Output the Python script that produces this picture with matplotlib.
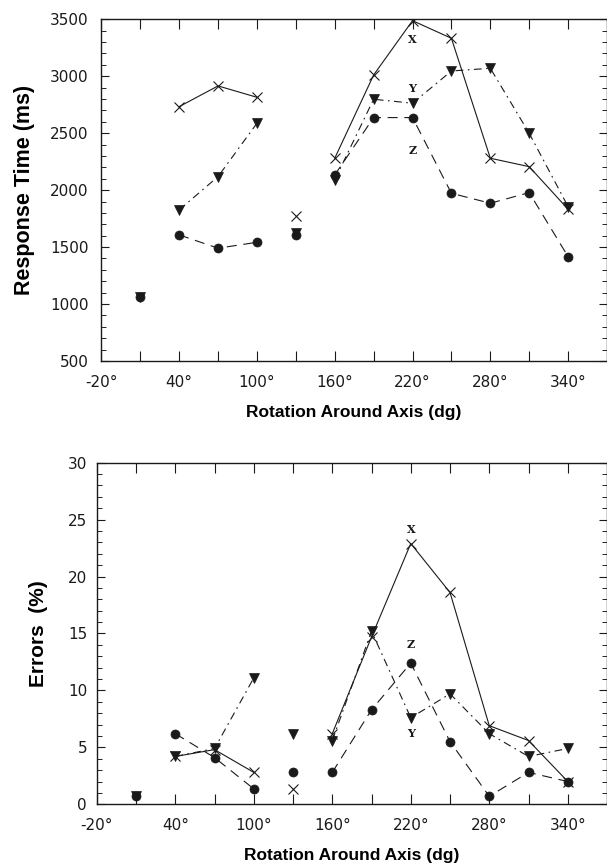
import numpy as np
import matplotlib.pyplot as plt
from matplotlib.ticker import MultipleLocator, FixedLocator

# rotation angles (degrees)
angles = np.array([10, 40, 70, 100, 130, 160, 190, 220, 250, 280, 310, 340])

# response times (ms) per rotation axis
rt_x = np.array([np.nan, 2733, 2915, 2815, 1773, 2280, 3011, 3488, 3333, 2280, 2206, 1832])
rt_y = np.array([1060, 1826, 2119, 2587, 1625, 2090, 2798, 2763, 3046, 3070, 2499, 1855])
rt_z = np.array([1065, 1607, 1490, 1542, 1607, 2133, 2637, 2637, 1972, 1885, 1978, 1416])

# errors (%) per rotation axis
err_x = np.array([np.nan, 4.2, 4.8, 2.8, 1.35, 6.2, 14.7, 22.9, 18.6, 6.9, 5.6, 2.0])
err_y = np.array([0.7, 4.2, 4.9, 11.1, 6.2, 5.6, 15.2, 7.6, 9.7, 6.2, 4.2, 4.9])
err_z = np.array([0.7, 6.2, 4.1, 1.35, 2.8, 2.8, 8.3, 12.4, 5.5, 0.7, 2.8, 2.0])

# connected runs of angles
segments = [(40, 100), (160, 340)]
xtick_labels = ["-20°", "40°", "100°", "160°", "220°", "280°", "340°"]

INK = "#1a1a1a"
styles = {
    "x": dict(marker="x", ms=7, mew=0.8, ls="-"),
    "y": dict(marker="v", ms=7, mew=0.5, ls=(0, (7, 4, 1.5, 4))),
    "z": dict(marker="o", ms=6.5, mew=0.5, ls=(0, (9, 6))),
}

tick_font = dict(family="DejaVu Sans", size=11)
label_family = ["Liberation Sans Narrow", "Liberation Sans", "DejaVu Sans"]


def draw_series(ax, vals, st):
    ax.plot(angles, vals, color=INK, marker=st["marker"], ms=st["ms"],
            mew=st["mew"], ls="none", zorder=3)
    for lo, hi in segments:
        m = (angles >= lo) & (angles <= hi)
        ax.plot(angles[m], vals[m], color=INK, lw=0.8, ls=st["ls"], zorder=2)


def style_axes(ax, ymin, ymax, ymajor, yminor, ypad):
    ax.set_xlim(-20, 370)
    ax.set_ylim(ymin, ymax)
    ax.set_xticks([-20, 40, 100, 160, 220, 280, 340])
    ax.set_xticklabels(xtick_labels, fontdict=tick_font)
    ax.xaxis.set_minor_locator(FixedLocator([10, 70, 130, 190, 250, 310]))
    ax.yaxis.set_major_locator(MultipleLocator(ymajor))
    ax.yaxis.set_minor_locator(MultipleLocator(yminor))
    ax.tick_params(axis="x", which="both", direction="in", length=7, width=0.8,
                   top=True, pad=10, colors=INK)
    ax.tick_params(axis="y", which="major", direction="in", length=6, width=0.8,
                   right=True, pad=ypad, colors=INK)
    ax.tick_params(axis="y", which="minor", direction="in", length=3.5, width=0.6,
                   right=True)
    for s in ax.spines.values():
        s.set_linewidth(1.0)
        s.set_color(INK)


fig = plt.figure(figsize=(6.07, 8.65), dpi=100)
ann = dict(family="DejaVu Serif", fontweight="bold", fontsize=8,
           ha="center", va="center", color=INK)

# --- response time ---
ax1 = fig.add_axes([0.167, 0.5827, 0.833, 0.395])
draw_series(ax1, rt_x, styles["x"])
draw_series(ax1, rt_y, styles["y"])
draw_series(ax1, rt_z, styles["z"])
style_axes(ax1, 500, 3500, 500, 100, 9)
ax1.set_yticks(np.arange(500, 3501, 500))
ax1.set_yticklabels([str(v) for v in range(500, 3501, 500)], fontdict=tick_font)
ax1.set_ylabel("Response Time (ms)", family=label_family, fontweight="bold",
               fontsize=15.5)
ax1.yaxis.set_label_coords(-0.131, 0.5)
ax1.set_xlabel("Rotation Around Axis (dg)", family=label_family,
               fontweight="bold", fontsize=12.5)
ax1.xaxis.set_label_coords(0.5, -0.129)
ax1.text(220, 3319, "X", **ann)
ax1.text(220, 2894, "Y", **ann)
ax1.text(220, 2344, "Z", **ann)

# --- errors ---
ax2 = fig.add_axes([0.1595, 0.0702, 0.8405, 0.3949])
draw_series(ax2, err_x, styles["x"])
draw_series(ax2, err_y, styles["y"])
draw_series(ax2, err_z, styles["z"])
style_axes(ax2, 0, 30, 5, 1, 7)
ax2.set_yticks(np.arange(0, 31, 5))
ax2.set_yticklabels([str(v) for v in range(0, 31, 5)], fontdict=tick_font)
ax2.set_ylabel("Errors  (%)", family=label_family, fontweight="bold",
               fontsize=15)
ax2.yaxis.set_label_coords(-0.096, 0.5)
ax2.set_xlabel("Rotation Around Axis (dg)", family=label_family,
               fontweight="bold", fontsize=12.5)
ax2.xaxis.set_label_coords(0.5, -0.128)
ax2.text(220, 24.1, "X", **ann)
ax2.text(220, 14.0, "Z", **ann)
ax2.text(220, 6.2, "Y", **ann)

fig.savefig("out.png", dpi=100)
